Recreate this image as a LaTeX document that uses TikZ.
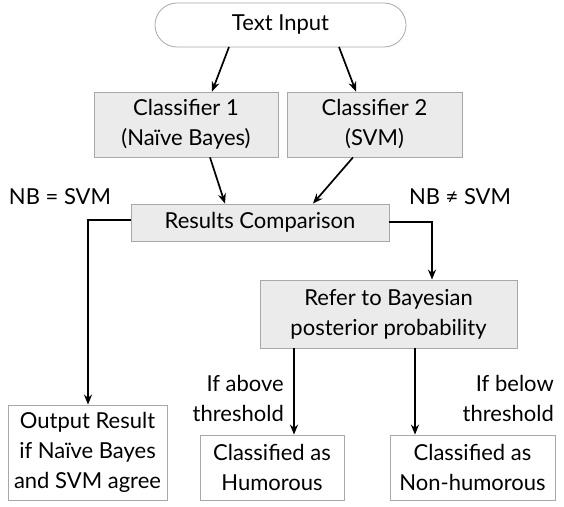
\documentclass[tikz,border=0pt]{standalone}
\usepackage{fontspec}
\setmainfont{Lato}
\usetikzlibrary{arrows.meta}
\definecolor{boxfill}{HTML}{EBEBEB}
\definecolor{boxline}{HTML}{A8A8A8}
\begin{document}
\begin{tikzpicture}[x=1pt,y=-1pt,
  font=\fontsize{22}{30}\selectfont,
  graybox/.style={draw=boxline,fill=boxfill,line width=0.8pt,inner sep=0pt,align=center},
  whitebox/.style={draw=boxline,fill=white,line width=0.8pt,inner sep=0pt,align=center},
  arr/.style={line width=1.7pt,-{Stealth[length=10pt,width=8pt]}},
  lab/.style={inner sep=0pt}]
\useasboundingbox (0,0) rectangle (564,506);
\node[draw=boxline,line width=0.8pt,rounded corners=22pt,minimum width=251pt,minimum height=44pt,inner sep=0pt] (inp) at (280.5,25) {Text Input};
\node[graybox,minimum width=184pt,minimum height=65pt] (c1) at (186,124.5) {Classifier 1\\(Naïve Bayes)};
\node[graybox,minimum width=175pt,minimum height=65pt] (c2) at (374.5,124.5) {Classifier 2\\(SVM)};
\node[graybox,minimum width=258pt,minimum height=37pt] (rc) at (260,222.5) {Results Comparison};
\node[graybox,minimum width=257pt,minimum height=68pt] (rb) at (388.5,314) {Refer to Bayesian\\posterior probability};
\node[whitebox,minimum width=159pt,minimum height=95pt] (out) at (87.5,452.5) {Output Result\\if Naïve Bayes\\and SVM agree};
\node[whitebox,minimum width=144pt,minimum height=65pt] (hum) at (272,467.5) {Classified as\\Humorous};
\node[whitebox,minimum width=165pt,minimum height=65pt] (non) at (472.5,467.5) {Classified as\\Non-humorous};
\node[lab] (eq) at (60,197) {NB = SVM};
\node[lab] (neq) at (460,197) {NB ≠ SVM};
\node[lab,align=right,anchor=east] (above) at (284,398) {If above\\threshold};
\node[lab,align=right,anchor=east] (below) at (554,398) {If below\\threshold};
\coordinate (i1) at (229,47);
\coordinate (i2) at (339,47);
\draw[arr] (i1) -- (c1.north -| 212,0);
\draw[arr] (i2) -- (c2.north -| 356,0);
\draw[arr] (c1.south -| 210,0) -- (rc.north -| 225,0);
\draw[arr] (c2.south -| 353,0) -- (rc.north -| 313,0);
\draw[arr] (rc.west |- 0,220) -- (88,220) -- (out.north -| 88,0);
\draw[arr] (rc.east |- 0,222) -- (432,222) -- (rb.north -| 432,0);
\draw[arr] (rb.south -| 294,0) -- (hum.north -| 294,0);
\draw[arr] (rb.south -| 415,0) -- (non.north -| 415,0);
\end{tikzpicture}
\end{document}
